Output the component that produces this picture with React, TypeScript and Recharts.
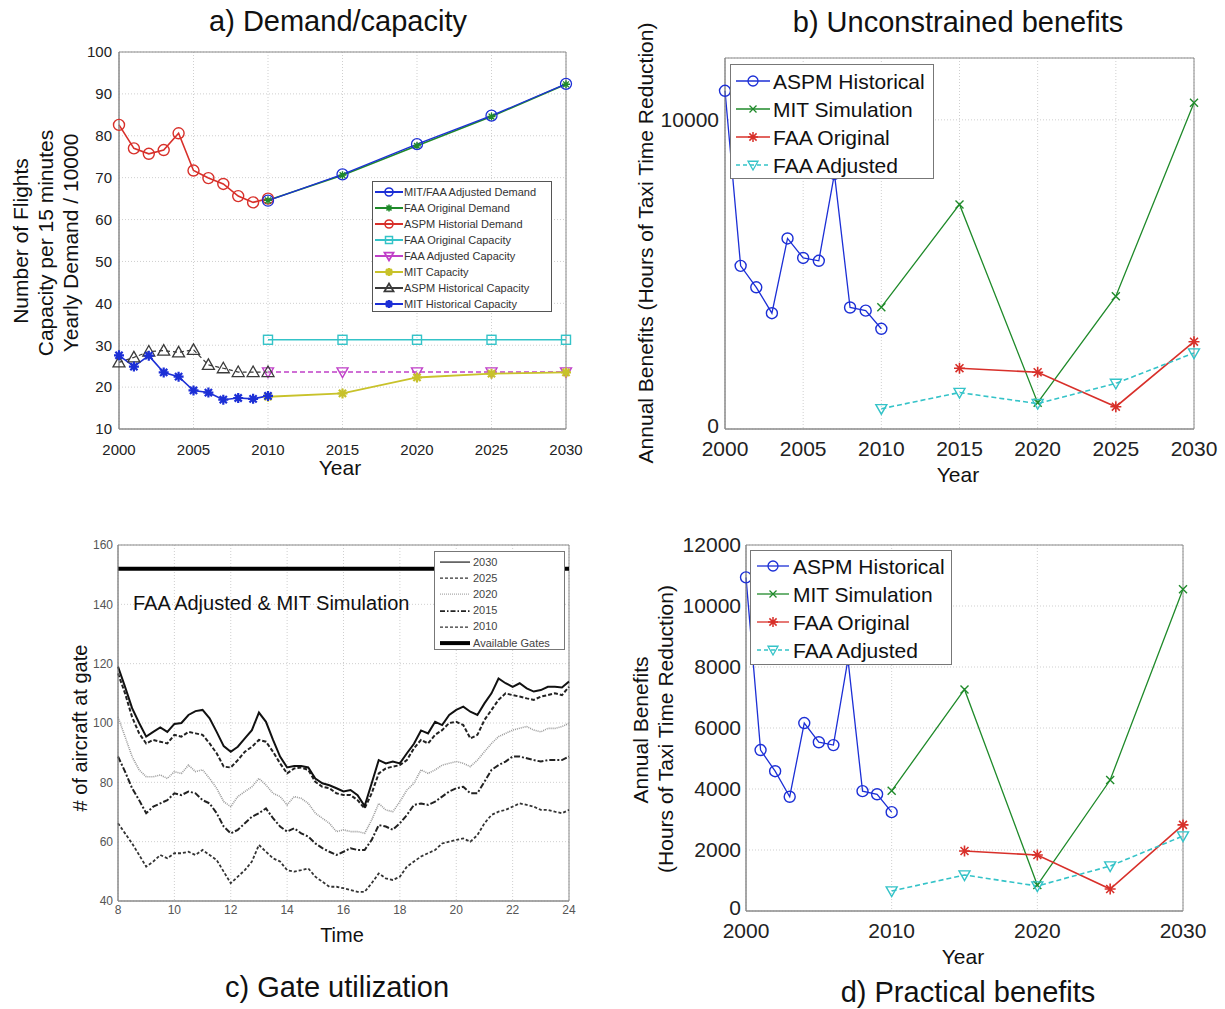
import React from 'react';
import { LineChart, Line, XAxis, YAxis, CartesianGrid, ReferenceArea, ReferenceLine } from 'recharts';

const FONT = '"Liberation Sans", Arial, Helvetica, sans-serif';

// ---- a) Demand / capacity ----
const histYears = [2000, 2001, 2002, 2003, 2004, 2005, 2006, 2007, 2008, 2009, 2010];
const forecastYears = [2010, 2015, 2020, 2025, 2030];
const aspmDemand = [82.6, 77, 75.7, 76.6, 80.6, 71.7, 69.9, 68.5, 65.6, 64.1, 65];
const adjustedDemand = [64.5, 70.8, 78, 84.8, 92.4];
const originalDemand = [64.6, 70.6, 77.6, 84.6, 92.3];
const faaOriginalCapacity = [31.3, 31.3, 31.3, 31.3, 31.3];
const faaAdjustedCapacity = [23.6, 23.6, 23.6, 23.6, 23.6];
const mitCapacity = [17.7, 18.5, 22.3, 23.2, 23.5];
const aspmCapacity = [25.9, 27.1, 28.5, 28.7, 28.3, 28.9, 25.3, 24.5, 23.6, 23.6, 23.6];
const mitHistCapacity = [27.6, 24.9, 27.5, 23.5, 22.5, 19.2, 18.7, 17, 17.4, 17.2, 17.9];

// ---- b) / d) benefits ----
const aspmBenefit = [10940, 5277, 4583, 3746, 6163, 5533, 5440, 8250, 3930, 3828, 3241];
const simYears = [2010, 2015, 2020, 2025, 2030];
const mitSimulation = [3940, 7265, 850, 4295, 10550];
const faaOrigYears = [2015, 2020, 2025, 2030];
const faaOriginalBenefit = [1967, 1836, 721, 2823];
const faaAdjustedBenefit = [656, 1180, 820, 1475, 2459];

// ---- c) Gate utilization ----
const hours = [
  8, 8.25, 8.5, 8.75, 9, 9.25, 9.5, 9.75, 10, 10.25, 10.5, 10.75, 11, 11.25, 11.5, 11.75,
  12, 12.25, 12.5, 12.75, 13, 13.25, 13.5, 13.75, 14, 14.25, 14.5, 14.75, 15, 15.25, 15.5, 15.75,
  16, 16.25, 16.5, 16.75, 17, 17.25, 17.5, 17.75, 18, 18.25, 18.5, 18.75, 19, 19.25, 19.5, 19.75,
  20, 20.25, 20.5, 20.75, 21, 21.25, 21.5, 21.75, 22, 22.25, 22.5, 22.75, 23, 23.25, 23.5, 23.75, 24,
];
const gates2030 = [
  119, 112.2, 105, 100, 95.4, 97, 98.5, 97, 99.7, 100, 102.7, 104, 104.4, 101.6, 97, 92.2,
  90.3, 92, 94.8, 97.6, 103.5, 100.4, 94.3, 88.7, 85, 85.5, 85.5, 85, 81.3, 79.7, 79, 78,
  76.9, 77.4, 75.7, 72, 79.7, 87.5, 86.4, 87, 86.4, 89.8, 93, 97.5, 96.5, 100.4, 99.3, 102.7,
  104.4, 105.5, 103.8, 102.7, 106.6, 110, 115, 113.4, 112.2, 113.4, 111.7, 110.6, 111.1, 112.2, 112.2, 112, 114,
];
const gates2025 = [
  116.7, 110, 102, 96.5, 93.1, 94.3, 93.7, 93.1, 96, 95.4, 97, 96.5, 96, 93.1, 89.8, 85.3,
  85, 87.5, 90.3, 92, 94.3, 93.7, 90.3, 86.4, 83, 84.7, 85, 84.2, 80.2, 78.5, 78, 76.3,
  75.7, 75.7, 74, 71.2, 76.3, 83, 84.7, 85.3, 85.8, 87.5, 91.5, 94.3, 93.1, 96, 97.6, 100,
  100.4, 99.3, 94.8, 96, 101, 104.4, 107.8, 110, 109.4, 108.9, 108.3, 107.8, 108.9, 109.4, 110, 109.4, 112.2,
];
const gates2020 = [
  102, 95.4, 88.7, 84.2, 81.9, 81.9, 82.5, 81.3, 83.6, 83, 85.8, 83.6, 84.2, 81.3, 78, 73.5,
  71.8, 75.2, 76.9, 78.5, 81.3, 79.1, 76.3, 75.2, 72.4, 75.2, 74.6, 72.9, 69.6, 67.9, 66.2, 63.4,
  64, 63.4, 63.4, 62.8, 67.3, 72.9, 70.7, 70.1, 73.5, 77.4, 79.7, 84.2, 83, 84.2, 85.8, 86.4,
  87, 86.4, 85.3, 87.5, 90.3, 93.1, 95.4, 96.5, 97.6, 98.2, 98.8, 97.6, 97, 98.2, 98.2, 98.8, 99.9,
];
const gates2015 = [
  88.7, 83.6, 78, 74, 69.6, 71.8, 72.9, 74, 76.3, 75.7, 76.9, 76.3, 74, 72.9, 69.6, 65.1,
  62.8, 64, 66.2, 68.4, 69.6, 71.2, 67.9, 65.1, 63.4, 64.5, 62.8, 61.7, 59.4, 57.8, 56.6, 55.5,
  56.6, 57.8, 57.2, 57.2, 60.6, 65.6, 65.1, 64, 66.2, 69, 72.4, 72.9, 72.4, 73.5, 75.2, 76.9,
  78, 78.5, 76.3, 76.3, 80.2, 84.2, 85.8, 87, 88.7, 88.7, 88.1, 87.5, 87, 87.5, 87.5, 87.5, 88.7,
];
const gates2010 = [
  66.2, 62.8, 59.4, 55.5, 51.6, 53.3, 55.5, 54.4, 56.1, 56.1, 56.6, 55.5, 57.2, 55.5, 53.8, 49.9,
  46, 48.2, 50.4, 53.3, 58.9, 56.6, 54.4, 53.3, 50.4, 49.9, 50.4, 51, 48.2, 46.5, 44.8, 44.8,
  44.3, 43.7, 43.1, 43.1, 46, 49.3, 47.6, 47.1, 48.2, 51.6, 53.3, 55, 56.1, 57.2, 59.4, 60,
  60.6, 61.1, 60, 62.2, 66.2, 69, 70.1, 70.7, 71.8, 72.9, 72.4, 71.8, 70.7, 70.7, 70.1, 69.6, 70.7,
];
const availableGates = 152;

const pairs = (xs: number[], vs: number[]) => xs.map((x, i) => ({ x, v: vs[i] }));
const gateRows = hours.map((t, i) => ({
  x: t,
  g2030: gates2030[i],
  g2025: gates2025[i],
  g2020: gates2020[i],
  g2015: gates2015[i],
  g2010: gates2010[i],
}));

type Shape = 'circle' | 'square' | 'x' | 'star' | 'triDown' | 'triUp';

function Marker({ shape, x, y, color, r = 4.5, sw = 1.2 }: any) {
  switch (shape as Shape) {
    case 'circle':
      return <circle cx={x} cy={y} r={r} fill="none" stroke={color} strokeWidth={sw} />;
    case 'square':
      return <rect x={x - r} y={y - r} width={2 * r} height={2 * r} fill="none" stroke={color} strokeWidth={sw} />;
    case 'x':
      return <path d={`M${x - r},${y - r}L${x + r},${y + r}M${x - r},${y + r}L${x + r},${y - r}`} stroke={color} strokeWidth={sw} />;
    case 'star': {
      const d = r * 0.72;
      return (
        <path
          d={`M${x - r},${y}L${x + r},${y}M${x},${y - r}L${x},${y + r}M${x - d},${y - d}L${x + d},${y + d}M${x - d},${y + d}L${x + d},${y - d}`}
          stroke={color}
          strokeWidth={sw}
        />
      );
    }
    case 'triDown':
      return <polygon points={`${x - r},${y - r * 0.75} ${x + r},${y - r * 0.75} ${x},${y + r}`} fill="none" stroke={color} strokeWidth={sw} />;
    case 'triUp':
      return <polygon points={`${x - r},${y + r * 0.75} ${x + r},${y + r * 0.75} ${x},${y - r}`} fill="none" stroke={color} strokeWidth={sw} />;
    default:
      return null;
  }
}

const makeDot = (shape: Shape, color: string, r: number, sw: number) => (p: any) => {
  const key = p.key ?? `dot-${p.index}`;
  if (p.cx == null || p.cy == null) return <g key={key} />;
  return <Marker key={key} shape={shape} x={p.cx} y={p.cy} color={color} r={r} sw={sw} />;
};

// y tick whose zero label sits a little higher so it clears the x labels
const benefitYTick = (p: any) => {
  const { x, y, payload, fill, fontSize, fontFamily } = p;
  const lift = payload.value === 0 ? -3 : 0;
  return (
    <text x={x} y={y + lift} dy="0.355em" textAnchor="end" fill={fill} fontSize={fontSize} fontFamily={fontFamily}>
      {payload.value}
    </text>
  );
};

function Txt({ x, y, size, rotate, children, color = '#111' }: any) {
  return (
    <div
      style={{
        position: 'absolute',
        left: x,
        top: y,
        transform: `translate(-50%, -50%)${rotate ? ' rotate(-90deg)' : ''}`,
        fontSize: size,
        fontFamily: FONT,
        color,
        whiteSpace: 'nowrap',
        lineHeight: 1,
      }}
    >
      {children}
    </div>
  );
}

function LegendBox({ left, top, width, height, padTop, padLeft, rowH, sample, gap, fontSize, color, rows, border }: any) {
  return (
    <div
      style={{
        position: 'absolute',
        left,
        top,
        width,
        height,
        boxSizing: 'border-box',
        background: '#fff',
        border,
        paddingTop: padTop,
        paddingLeft: padLeft,
        fontFamily: FONT,
      }}
    >
      {rows.map((row: any) => (
        <div key={row.label} style={{ display: 'flex', alignItems: 'center', height: rowH }}>
          <svg width={sample} height={rowH} style={{ display: 'block', flex: 'none' }}>
            <line
              x1={0}
              x2={sample}
              y1={rowH / 2}
              y2={rowH / 2}
              stroke={row.color}
              strokeWidth={row.lineW ?? 1.2}
              strokeDasharray={row.dash}
            />
            {row.shape && <Marker shape={row.shape} x={sample / 2} y={rowH / 2} color={row.color} r={row.r} sw={row.sw} />}
          </svg>
          <span style={{ marginLeft: gap, fontSize, color, whiteSpace: 'nowrap', lineHeight: 1 }}>{row.label}</span>
        </div>
      ))}
    </div>
  );
}

const BLUE = '#1c2fd6';
const GREEN = '#1f8a2a';
const RED = '#d8302a';
const CYAN = '#34c3c8';
const MAGENTA = '#c040c8';
const YELLOW = '#c8c22a';
const GREY = '#3a3a3a';

const FRAME = '#8a8a8a';
const GRID = '#cfcfcf';

function DemandCapacity() {
  const tick = { fill: '#222', fontSize: 15, fontFamily: FONT };
  return (
    <div style={{ position: 'absolute', left: 0, top: 0 }}>
      <LineChart width={600} height={500} margin={{ top: 52, right: 34, left: 0, bottom: 0 }}>
        <CartesianGrid stroke={GRID} strokeDasharray="1 2" />
        <XAxis
          type="number"
          dataKey="x"
          domain={[2000, 2030]}
          ticks={[2000, 2005, 2010, 2015, 2020, 2025, 2030]}
          height={71}
          axisLine={{ stroke: FRAME }}
          tickLine={false}
          tickSize={8}
          tickMargin={7}
          tick={tick}
        />
        <YAxis
          type="number"
          domain={[10, 100]}
          ticks={[10, 20, 30, 40, 50, 60, 70, 80, 90, 100]}
          width={119}
          axisLine={{ stroke: FRAME }}
          tickLine={false}
          tickSize={4}
          tickMargin={3}
          tick={tick}
        />
        <ReferenceArea x1={2000} x2={2030} y1={10} y2={100} fill="none" stroke={FRAME} />
        <Line data={pairs(histYears, aspmDemand)} dataKey="v" stroke={RED} strokeWidth={1.6} dot={makeDot('circle', RED, 5.5, 1.4)} activeDot={false} isAnimationActive={false} />
        <Line data={pairs(forecastYears, originalDemand)} dataKey="v" stroke={GREEN} strokeWidth={1.6} dot={makeDot('star', GREEN, 4, 1.4)} activeDot={false} isAnimationActive={false} />
        <Line data={pairs(forecastYears, adjustedDemand)} dataKey="v" stroke={BLUE} strokeWidth={1.3} dot={makeDot('circle', BLUE, 5.5, 1.3)} activeDot={false} isAnimationActive={false} />
        <Line data={pairs(forecastYears, faaOriginalCapacity)} dataKey="v" stroke={CYAN} strokeWidth={1.6} dot={makeDot('square', CYAN, 4.5, 1.4)} activeDot={false} isAnimationActive={false} />
        <Line data={pairs(forecastYears, faaAdjustedCapacity)} dataKey="v" stroke={MAGENTA} strokeWidth={1.6} strokeDasharray="5 3" dot={makeDot('triDown', MAGENTA, 5.5, 1.4)} activeDot={false} isAnimationActive={false} />
        <Line data={pairs(forecastYears, mitCapacity)} dataKey="v" stroke={YELLOW} strokeWidth={1.8} dot={makeDot('star', YELLOW, 5, 2.2)} activeDot={false} isAnimationActive={false} />
        <Line data={pairs(histYears, aspmCapacity)} dataKey="v" stroke={GREY} strokeWidth={1.2} strokeDasharray="4 3" dot={makeDot('triUp', GREY, 6, 1.3)} activeDot={false} isAnimationActive={false} />
        <Line data={pairs(histYears, mitHistCapacity)} dataKey="v" stroke={BLUE} strokeWidth={1.6} dot={makeDot('star', BLUE, 5, 2.2)} activeDot={false} isAnimationActive={false} />
      </LineChart>
      <LegendBox
        left={372}
        top={181}
        width={180}
        height={131}
        padTop={2}
        padLeft={2}
        rowH={16}
        sample={28}
        gap={1}
        fontSize={11}
        color="#333"
        border="1px solid #555"
        rows={[
          { label: 'MIT/FAA Adjusted Demand', color: BLUE, shape: 'circle', r: 4, sw: 1.6, lineW: 2 },
          { label: 'FAA Original Demand', color: GREEN, shape: 'star', r: 3.5, sw: 1.6, lineW: 2 },
          { label: 'ASPM Historial Demand', color: RED, shape: 'circle', r: 4, sw: 1.6, lineW: 2 },
          { label: 'FAA Original Capacity', color: CYAN, shape: 'square', r: 3.5, sw: 1.5, lineW: 2 },
          { label: 'FAA Adjusted Capacity', color: MAGENTA, shape: 'triDown', r: 4.5, sw: 1.8, lineW: 2 },
          { label: 'MIT Capacity', color: YELLOW, shape: 'star', r: 4, sw: 2.4, lineW: 2 },
          { label: 'ASPM Historical Capacity', color: GREY, shape: 'triUp', r: 4.5, sw: 1.8, lineW: 2 },
          { label: 'MIT Historical Capacity', color: BLUE, shape: 'star', r: 4, sw: 2.4, lineW: 2 },
        ]}
      />
      <Txt x={338} y={21} size={29}>a) Demand/capacity</Txt>
      <Txt x={20} y={241} size={21} rotate>Number of Flights</Txt>
      <Txt x={45} y={243} size={21} rotate>Capacity per 15 minutes</Txt>
      <Txt x={70} y={243} size={21} rotate>Yearly Demand / 10000</Txt>
      <Txt x={340} y={467} size={21}>Year</Txt>
    </div>
  );
}

const benefitRows = [
  { label: 'ASPM Historical', color: BLUE, shape: 'circle', r: 5, sw: 1.3, lineW: 1.3 },
  { label: 'MIT Simulation', color: GREEN, shape: 'x', r: 3.5, sw: 1.3, lineW: 1.3 },
  { label: 'FAA Original', color: RED, shape: 'star', r: 5, sw: 1.5, lineW: 1.3 },
  { label: 'FAA Adjusted', color: CYAN, shape: 'triDown', r: 5, sw: 1.3, lineW: 1.3, dash: '4 3' },
];

function BenefitLines() {
  return [
    <Line key="aspm" data={pairs(histYears, aspmBenefit)} dataKey="v" stroke={BLUE} strokeWidth={1.3} dot={makeDot('circle', BLUE, 5.5, 1.4)} activeDot={false} isAnimationActive={false} />,
    <Line key="mit" data={pairs(simYears, mitSimulation)} dataKey="v" stroke={GREEN} strokeWidth={1.3} dot={makeDot('x', GREEN, 4, 1.4)} activeDot={false} isAnimationActive={false} />,
    <Line key="orig" data={pairs(faaOrigYears, faaOriginalBenefit)} dataKey="v" stroke={RED} strokeWidth={1.6} dot={makeDot('star', RED, 5.5, 1.6)} activeDot={false} isAnimationActive={false} />,
    <Line key="adj" data={pairs(simYears, faaAdjustedBenefit)} dataKey="v" stroke={CYAN} strokeWidth={1.6} strokeDasharray="5 3" dot={makeDot('triDown', CYAN, 5.5, 1.4)} activeDot={false} isAnimationActive={false} />,
  ];
}

function UnconstrainedBenefits() {
  const tick = { fill: '#222', fontSize: 21, fontFamily: FONT };
  return (
    <div style={{ position: 'absolute', left: 600, top: 0 }}>
      <LineChart width={625} height={500} margin={{ top: 58, right: 31, left: 0, bottom: 0 }}>
        <CartesianGrid stroke={GRID} strokeDasharray="1 2" />
        <XAxis
          type="number"
          dataKey="x"
          domain={[2000, 2030]}
          ticks={[2000, 2005, 2010, 2015, 2020, 2025, 2030]}
          height={71}
          axisLine={{ stroke: FRAME }}
          tickLine={false}
          tickSize={6}
          tickMargin={6}
          tick={tick}
        />
        <YAxis
          type="number"
          domain={[0, 12000]}
          ticks={[0, 10000]}
          width={125}
          axisLine={{ stroke: FRAME }}
          tickLine={false}
          tickSize={4}
          tickMargin={2}
          tick={(p: any) => benefitYTick({ ...p, ...tick })}
        />
        <ReferenceArea x1={2000} x2={2030} y1={0} y2={12000} fill="none" stroke={FRAME} />
        {BenefitLines()}
      </LineChart>
      <LegendBox
        left={130}
        top={64}
        width={204}
        height={115}
        padTop={2}
        padLeft={5}
        rowH={28}
        sample={34}
        gap={3}
        fontSize={21}
        color="#111"
        border="1px solid #777"
        rows={benefitRows}
      />
      <Txt x={358} y={22} size={29}>b) Unconstrained benefits</Txt>
      <Txt x={45} y={243} size={21} rotate>Annual Benefits (Hours of Taxi Time Reduction)</Txt>
      <Txt x={358} y={474} size={21}>Year</Txt>
    </div>
  );
}

function GateUtilization() {
  const tick = { fill: '#555', fontSize: 12, fontFamily: FONT };
  return (
    <div style={{ position: 'absolute', left: 0, top: 500 }}>
      <LineChart width={600} height={509} data={gateRows} margin={{ top: 45, right: 31, left: 0, bottom: 0 }}>
        <CartesianGrid stroke={GRID} strokeDasharray="1 2" />
        <XAxis
          type="number"
          dataKey="x"
          domain={[8, 24]}
          ticks={[8, 10, 12, 14, 16, 18, 20, 22, 24]}
          height={108}
          axisLine={{ stroke: FRAME }}
          tickLine={false}
          tickSize={2}
          tickMargin={2}
          tick={tick}
        />
        <YAxis
          type="number"
          domain={[40, 160]}
          ticks={[40, 60, 80, 100, 120, 140, 160]}
          width={118}
          axisLine={{ stroke: FRAME }}
          tickLine={false}
          tickSize={3}
          tickMargin={2}
          tick={tick}
        />
        <ReferenceArea x1={8} x2={24} y1={40} y2={160} fill="none" stroke={FRAME} />
        <ReferenceLine y={availableGates} stroke="#000" strokeWidth={4} />
        <Line dataKey="g2010" stroke="#333" strokeWidth={1.8} strokeDasharray="3 2" dot={false} activeDot={false} isAnimationActive={false} />
        <Line dataKey="g2015" stroke="#222" strokeWidth={2} strokeDasharray="6 2 2 2" dot={false} activeDot={false} isAnimationActive={false} />
        <Line dataKey="g2020" stroke="#9a9a9a" strokeWidth={1.6} strokeDasharray="1 1" dot={false} activeDot={false} isAnimationActive={false} />
        <Line dataKey="g2025" stroke="#222" strokeWidth={2} strokeDasharray="4 2" dot={false} activeDot={false} isAnimationActive={false} />
        <Line dataKey="g2030" stroke="#111" strokeWidth={2} dot={false} activeDot={false} isAnimationActive={false} />
      </LineChart>
      <LegendBox
        left={434}
        top={51}
        width={131}
        height={99}
        padTop={2}
        padLeft={5}
        rowH={16.2}
        sample={30}
        gap={3}
        fontSize={11}
        color="#444"
        border="1px solid #777"
        rows={[
          { label: '2030', color: '#555', lineW: 1.6 },
          { label: '2025', color: '#333', lineW: 1.4, dash: '3 2' },
          { label: '2020', color: '#aaa', lineW: 1.4, dash: '1 1' },
          { label: '2015', color: '#222', lineW: 1.8, dash: '5 2 1.5 2' },
          { label: '2010', color: '#333', lineW: 1.2, dash: '3 2' },
          { label: 'Available Gates', color: '#000', lineW: 4 },
        ]}
      />
      <div
        style={{
          position: 'absolute',
          left: 133,
          top: 103,
          transform: 'translateY(-50%)',
          fontSize: 20,
          fontFamily: FONT,
          color: '#111',
          whiteSpace: 'nowrap',
          lineHeight: 1,
        }}
      >
        FAA Adjusted &amp; MIT Simulation
      </div>
      <Txt x={80} y={228} size={20} rotate>
        # of aircraft at gate
      </Txt>
      <Txt x={342} y={435} size={20}>Time</Txt>
      <Txt x={337} y={487} size={29}>c) Gate utilization</Txt>
    </div>
  );
}

function PracticalBenefits() {
  const tick = { fill: '#222', fontSize: 21, fontFamily: FONT };
  return (
    <div style={{ position: 'absolute', left: 600, top: 500 }}>
      <LineChart width={625} height={509} margin={{ top: 45, right: 42, left: 0, bottom: 0 }}>
        <CartesianGrid stroke={GRID} strokeDasharray="1 2" />
        <XAxis
          type="number"
          dataKey="x"
          domain={[2000, 2030]}
          ticks={[2000, 2010, 2020, 2030]}
          height={98}
          axisLine={{ stroke: FRAME }}
          tickLine={false}
          tickSize={6}
          tickMargin={6}
          tick={tick}
        />
        <YAxis
          type="number"
          domain={[0, 12000]}
          ticks={[0, 2000, 4000, 6000, 8000, 10000, 12000]}
          width={146}
          axisLine={{ stroke: FRAME }}
          tickLine={false}
          tickSize={3}
          tickMargin={2}
          tick={(p: any) => benefitYTick({ ...p, ...tick })}
        />
        <ReferenceArea x1={2000} x2={2030} y1={0} y2={12000} fill="none" stroke={FRAME} />
        {BenefitLines()}
      </LineChart>
      <LegendBox
        left={150}
        top={50}
        width={202}
        height={115}
        padTop={1}
        padLeft={6}
        rowH={28}
        sample={32}
        gap={4}
        fontSize={21}
        color="#111"
        border="1px solid #777"
        rows={benefitRows}
      />
      <Txt x={40} y={230} size={21} rotate>Annual Benefits</Txt>
      <Txt x={65} y={229} size={21} rotate>(Hours of Taxi Time Reduction)</Txt>
      <Txt x={363} y={456} size={21}>Year</Txt>
      <Txt x={368} y={492} size={29}>d) Practical benefits</Txt>
    </div>
  );
}

export default function App() {
  return (
    <div
      style={{
        position: 'absolute',
        left: 0,
        top: 0,
        width: 1225,
        height: 1009,
        background: '#fff',
        fontFamily: FONT,
        overflow: 'hidden',
      }}
    >
      <DemandCapacity />
      <UnconstrainedBenefits />
      <GateUtilization />
      <PracticalBenefits />
    </div>
  );
}
